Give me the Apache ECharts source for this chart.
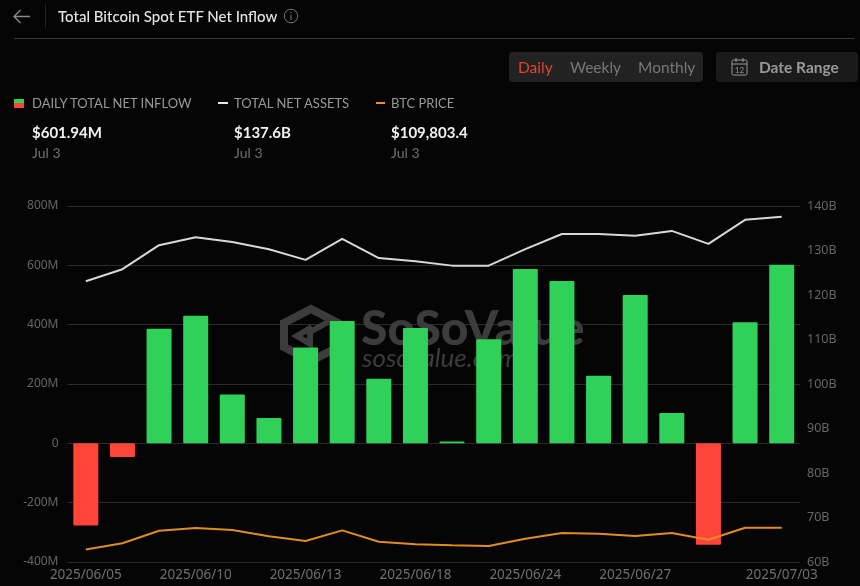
<!DOCTYPE html>
<html>
<head>
<meta charset="utf-8">
<title>Total Bitcoin Spot ETF Net Inflow</title>
<script src="https://cdn.jsdelivr.net/npm/echarts@6/dist/echarts.min.js"></script>
<style>
  html, body { margin: 0; padding: 0; background: #050505; }
  #page { position: relative; width: 860px; height: 586px; overflow: hidden; background: #050505; font-family: Lato, sans-serif; }
  #chart { position: absolute; left: 0; top: 0; width: 860px; height: 586px; }
  .t { position: absolute; white-space: nowrap; line-height: 1; }
  .box { position: absolute; border-radius: 4px; }
  .rule { position: absolute; background: #3a3a3a; }
</style>
</head>
<body>
<div id="page">
  <div id="chart"></div>

  <svg style="position:absolute;left:12px;top:8px" width="20" height="18" viewBox="0 0 20 18" fill="none" stroke="#8a8a8a" stroke-width="1.4">
    <path d="M18 8.5H2M8.5 2L2 8.5L8.5 15"/>
  </svg>
  <div class="rule" style="left:45px;top:4px;width:1px;height:24px;background:#222"></div>
  <div class="t" id="title" style="left:58px;top:9px;font-size:15px;font-weight:500;color:#e6e6e6"></div>
  <svg style="position:absolute;left:283px;top:8px" width="16" height="16" viewBox="0 0 16 16" fill="none" stroke="#777" stroke-width="1">
    <circle cx="8" cy="8" r="6.8"/><path d="M8 7v5M8 4v1.4"/>
  </svg>
  <div class="rule" style="left:14px;top:38px;width:840px;height:1px"></div>

  <div class="box" style="left:509px;top:52px;width:194px;height:30px;background:#222"></div>
  <div class="t" style="left:518px;top:60px;font-size:15.5px;color:#e0452f">Daily</div>
  <div class="t" style="left:570px;top:60px;font-size:15.5px;color:#777">Weekly</div>
  <div class="t" style="left:638px;top:60px;font-size:15.5px;color:#777">Monthly</div>

  <div class="box" style="left:716px;top:52px;width:142px;height:30px;background:#1a1a1a"></div>
  <svg style="position:absolute;left:730px;top:57px" width="19" height="20" viewBox="0 0 19 20" fill="none" stroke="#999" stroke-width="1">
    <rect x="2" y="3" width="15" height="15" rx="1.5"/><path d="M2 7h15M6 1v4M13 1v4"/>
    <text x="9.5" y="16" font-size="8" text-anchor="middle" fill="#999" stroke="none" font-family="Lato">12</text>
  </svg>
  <div class="t" style="left:759px;top:60px;font-size:15.5px;font-weight:700;color:#999">Date Range</div>

  <div style="position:absolute;left:14px;top:99px;width:10px;height:4px;background:#30d158"></div>
  <div style="position:absolute;left:14px;top:103px;width:10px;height:5px;background:#ff453a"></div>
  <div style="position:absolute;left:218px;top:102px;width:10px;height:2px;background:#e8e8e8"></div>
  <div style="position:absolute;left:376px;top:102px;width:9px;height:2px;background:#f0921e"></div>
  <div id="legend"></div>
</div>

<script>
const pageTitle = 'Total Bitcoin Spot ETF Net Inflow';

const legendNames = ['DAILY TOTAL NET INFLOW', 'TOTAL NET ASSETS', 'BTC PRICE'];
const legendValues = ['$601.94M', '$137.6B', '$109,803.4'];
const legendDates = ['Jul 3', 'Jul 3', 'Jul 3'];
const legendLeft = [32, 234, 391];

const dates = ['2025/06/05', '2025/06/06', '2025/06/09', '2025/06/10', '2025/06/11',
    '2025/06/12', '2025/06/13', '2025/06/16', '2025/06/17', '2025/06/18',
    '2025/06/20', '2025/06/23', '2025/06/24', '2025/06/25', '2025/06/26',
    '2025/06/27', '2025/06/30', '2025/07/01', '2025/07/02', '2025/07/03'];
const shownDates = ['2025/06/05', '2025/06/10', '2025/06/13', '2025/06/18', '2025/06/24', '2025/06/27', '2025/07/03'];

// millions of USD
const netInflow = [-277, -46, 386, 430, 165, 85, 323, 412, 218, 389,
    6, 351, 588, 547, 228, 500, 102, -342, 408, 601.94];
// billions of USD
const netAssets = [123.1, 125.8, 131.2, 133, 131.9, 130.3, 127.9, 132.6, 128.3, 127.6,
    126.6, 126.6, 130.3, 133.7, 133.7, 133.3, 134.4, 131.5, 136.9, 137.6];
// USD, on a hidden axis
const btcPrice = [101100, 103560, 108660, 109750, 108940, 106400, 104500, 108800, 104200, 103160,
    102750, 102470, 105420, 107730, 107450, 106500, 107730, 105020, 109870, 109803.4];

document.getElementById('title').textContent = pageTitle;
document.getElementById('legend').innerHTML = legendNames.map((name, i) => `
    <div class="t" style="left:${legendLeft[i]}px;top:97px;font-size:13px;color:#999">${name}</div>
    <div class="t" style="left:${legendLeft[i]}px;top:125px;font-size:15px;font-weight:700;color:#f2f2f2">${legendValues[i]}</div>
    <div class="t" style="left:${legendLeft[i]}px;top:146px;font-size:14px;color:#707070">${legendDates[i]}</div>
`).join('');

const chart = echarts.init(document.getElementById('chart'));
const axisFont = { color: '#666', fontSize: 12, fontFamily: 'Noto Sans' };

chart.setOption({
    backgroundColor: 'transparent',
    animation: false,
    grid: { left: 67.5, right: 60, top: 206, bottom: 24 },
    graphic: [
        {
            type: 'polygon', z: 1,
            shape: { points: [[311, 309], [338, 323], [338, 347], [311, 361], [284, 347], [284, 323]] },
            style: { fill: 'none', stroke: '#3c3c3c', lineWidth: 8 }
        },
        {
            type: 'polyline', z: 1,
            shape: { points: [[328, 322], [310, 332], [310, 344], [297, 336], [312, 327]] },
            style: { fill: 'none', stroke: '#3c3c3c', lineWidth: 6 }
        },
        {
            type: 'text', z: 1, left: 361, top: 306,
            style: { text: 'SoSoValue', fill: '#3c3c3c', font: '900 48px Lato' }
        },
        {
            type: 'text', z: 1, left: 362, top: 346,
            style: { text: 'sosovalue.com', fill: '#3c3c3c', font: 'italic 26px Lato' }
        }
    ],
    xAxis: {
        type: 'category',
        data: dates,
        axisLine: { show: false },
        axisTick: { show: false },
        axisLabel: {
            ...axisFont,
            color: '#707070',
            fontSize: 13.5,
            margin: 6,
            interval: (index, value) => shownDates.includes(value),
            hideOverlap: false
        }
    },
    yAxis: [
        {
            type: 'value', min: -400, max: 800, interval: 200,
            axisLabel: { ...axisFont, margin: 9, formatter: v => v === 0 ? '0' : v + 'M' },
            splitLine: { lineStyle: { color: '#2b2b2b', width: 1 } }
        },
        {
            type: 'value', position: 'right', min: 60, max: 140, interval: 10,
            axisLabel: { ...axisFont, fontSize: 12.5, margin: 7, formatter: '{value}B' },
            splitLine: { show: false }
        },
        {
            type: 'value', show: false, min: 96000, max: 240000,
            splitLine: { show: false }
        }
    ],
    series: [
        {
            name: 'Daily Total Net Inflow',
            type: 'bar',
            z: 2,
            barWidth: 25,
            data: netInflow,
            itemStyle: {
                borderRadius: 1,
                color: params => params.value >= 0 ? '#30d158' : '#ff453a'
            }
        },
        {
            name: 'Total Net Assets',
            type: 'line',
            z: 3,
            yAxisIndex: 1,
            data: netAssets,
            showSymbol: false,
            lineStyle: { color: '#d8d8d8', width: 2 }
        },
        {
            name: 'BTC Price',
            type: 'line',
            z: 3,
            yAxisIndex: 2,
            data: btcPrice,
            showSymbol: false,
            lineStyle: { color: '#e08c22', width: 2 }
        }
    ]
});
</script>
</body>
</html>
